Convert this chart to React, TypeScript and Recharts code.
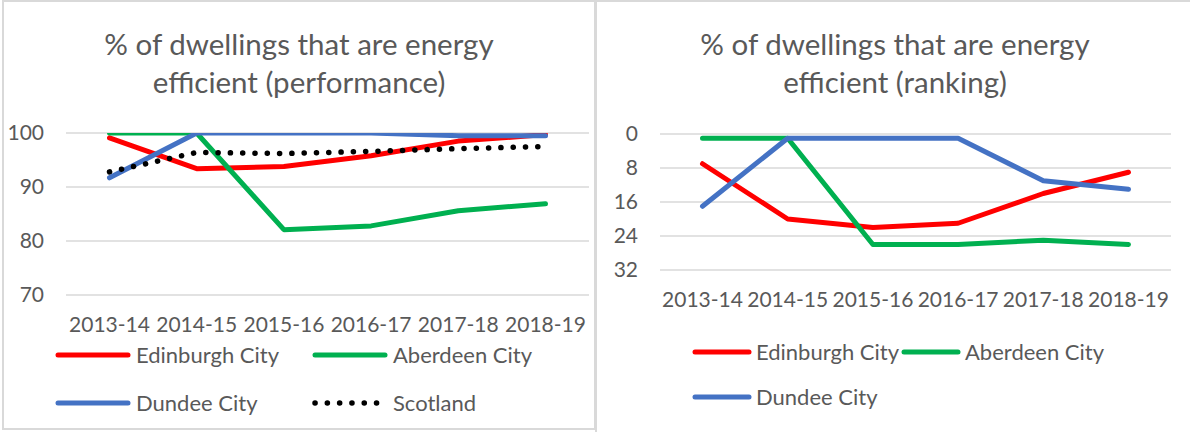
import React from 'react';
import { LineChart, Line, XAxis, YAxis, CartesianGrid } from 'recharts';

const years = ['2013-14', '2014-15', '2015-16', '2016-17', '2017-18', '2018-19'];

const perfEdinburgh = [99.1, 93.4, 93.8, 95.8, 98.5, 99.7];
const perfAberdeen = [100, 100, 82.1, 82.8, 85.6, 86.9];
const perfDundee = [91.7, 100, 100, 100, 99.5, 99.5];
const perfScotland = [92.8, 96.4, 96.2, 96.6, 97.1, 97.5];

const rankEdinburgh = [7, 20, 22, 21, 14, 9];
const rankAberdeen = [1, 1, 26, 26, 25, 26];
const rankDundee = [17, 1, 1, 1, 11, 13];

const perfTicks = [70, 80, 90, 100];
const rankTicks = [0, 8, 16, 24, 32];

const perfTitle = ['% of dwellings that are energy', 'efficient (performance)'];
const rankTitle = ['% of dwellings that are energy', 'efficient (ranking)'];

const perfData = years.map((y, i) => ({
  year: y,
  edinburgh: perfEdinburgh[i],
  aberdeen: perfAberdeen[i],
  dundee: perfDundee[i],
  scotland: perfScotland[i],
}));

const rankData = years.map((y, i) => ({
  year: y,
  edinburgh: rankEdinburgh[i],
  aberdeen: rankAberdeen[i],
  dundee: rankDundee[i],
}));

const RED = '#FF0000';
const GREEN = '#00B050';
const BLUE = '#4472C4';
const BLACK = '#000000';
const TEXT = '#595959';
const GRID = '#D9D9D9';
const FONT = 'Lato, "Open Sans", sans-serif';

const tickStyle = { fill: TEXT, fontSize: 21, fontFamily: FONT };

function LegendItem({ color, label, dotted, lineWidth, gap }: { color: string; label: string; dotted?: boolean; lineWidth: number; gap: number }) {
  return (
    <div style={{ display: 'flex', alignItems: 'center' }}>
      <svg width={lineWidth} height={10} style={{ marginRight: gap }}>
        {dotted ? (
          <line x1={3} y1={5} x2={lineWidth - 3} y2={5} stroke={color} strokeWidth={5.5} strokeLinecap="round" strokeDasharray="0.1 12.2" />
        ) : (
          <line x1={3} y1={5} x2={lineWidth - 3} y2={5} stroke={color} strokeWidth={5} strokeLinecap="round" />
        )}
      </svg>
      <span style={{ color: TEXT, fontSize: 22, fontFamily: FONT, whiteSpace: 'nowrap' }}>{label}</span>
    </div>
  );
}

function Title({ lines, center }: { lines: string[]; center: number }) {
  return (
    <div
      style={{
        position: 'absolute',
        left: center - 280,
        width: 560,
        top: 25,
        textAlign: 'center',
        color: TEXT,
        fontFamily: FONT,
        fontSize: 29.5,
        lineHeight: '38px',
      }}
    >
      {lines.map((l) => (
        <div key={l}>{l}</div>
      ))}
    </div>
  );
}

export default function App() {
  return (
    <div style={{ position: 'absolute', left: 0, top: 0, width: 1190, height: 432, overflow: 'hidden', background: '#fff' }}>
      {/* panel borders */}
      <div style={{ position: 'absolute', left: 2, top: 0, width: 594, height: 430, border: `2px solid ${GRID}`, boxSizing: 'border-box' }} />
      <div style={{ position: 'absolute', left: 595, top: 0, width: 620, height: 460, border: `2px solid ${GRID}`, boxSizing: 'border-box' }} />

      <Title lines={perfTitle} center={299} />
      <Title lines={rankTitle} center={895} />

      {/* left chart */}
      <div style={{ position: 'absolute', left: 0, top: 0 }}>
        <LineChart width={596} height={432} data={perfData} margin={{ top: 133, right: 7, bottom: 107, left: 0 }}>
          <CartesianGrid vertical={false} stroke={GRID} strokeWidth={1.5} />
          <XAxis
            dataKey="year"
            axisLine={false}
            tickLine={false}
            tickSize={0}
            tickMargin={22}
            height={30}
            tick={tickStyle}
            interval={0}
            padding={{ left: 43.5, right: 43.5 }}
          />
          <YAxis
            domain={[70, 100]}
            ticks={perfTicks}
            axisLine={false}
            tickLine={false}
            tickSize={0}
            tickMargin={22}
            width={66}
            tick={tickStyle}
            allowDataOverflow
          />
          <Line dataKey="edinburgh" stroke={RED} strokeWidth={5} dot={false} isAnimationActive={false} strokeLinejoin="round" strokeLinecap="round" />
          <Line dataKey="aberdeen" stroke={GREEN} strokeWidth={5} dot={false} isAnimationActive={false} strokeLinejoin="round" strokeLinecap="round" />
          <Line dataKey="dundee" stroke={BLUE} strokeWidth={5} dot={false} isAnimationActive={false} strokeLinejoin="round" strokeLinecap="round" />
          <Line dataKey="scotland" stroke={BLACK} strokeWidth={5.5} dot={false} isAnimationActive={false} strokeLinecap="round" strokeDasharray="0.1 12.2" />
        </LineChart>
      </div>

      {/* right chart */}
      <div style={{ position: 'absolute', left: 596, top: 0 }}>
        <LineChart width={594} height={432} data={rankData} margin={{ top: 134, right: 19, bottom: 132, left: 0 }}>
          <CartesianGrid vertical={false} stroke={GRID} strokeWidth={1.5} />
          <XAxis
            dataKey="year"
            axisLine={false}
            tickLine={false}
            tickSize={0}
            tickMargin={22}
            height={30}
            tick={tickStyle}
            interval={0}
            padding={{ left: 42.5, right: 42.5 }}
          />
          <YAxis
            domain={[0, 32]}
            ticks={rankTicks}
            reversed
            axisLine={false}
            tickLine={false}
            tickSize={0}
            tickMargin={22}
            width={64}
            tick={tickStyle}
          />
          <Line dataKey="edinburgh" stroke={RED} strokeWidth={5} dot={false} isAnimationActive={false} strokeLinejoin="round" strokeLinecap="round" />
          <Line dataKey="aberdeen" stroke={GREEN} strokeWidth={5} dot={false} isAnimationActive={false} strokeLinejoin="round" strokeLinecap="round" />
          <Line dataKey="dundee" stroke={BLUE} strokeWidth={5} dot={false} isAnimationActive={false} strokeLinejoin="round" strokeLinecap="round" />
        </LineChart>
      </div>

      {/* left legend */}
      <div style={{ position: 'absolute', left: 55, top: 341 }}>
        <LegendItem color={RED} label="Edinburgh City" lineWidth={76} gap={5} />
      </div>
      <div style={{ position: 'absolute', left: 312, top: 341 }}>
        <LegendItem color={GREEN} label="Aberdeen City" lineWidth={76} gap={5} />
      </div>
      <div style={{ position: 'absolute', left: 55, top: 389 }}>
        <LegendItem color={BLUE} label="Dundee City" lineWidth={76} gap={5} />
      </div>
      <div style={{ position: 'absolute', left: 312, top: 389 }}>
        <LegendItem color={BLACK} label="Scotland" lineWidth={76} gap={5} dotted />
      </div>

      {/* right legend */}
      <div style={{ position: 'absolute', left: 692, top: 338, display: 'flex' }}>
        <LegendItem color={RED} label="Edinburgh City" lineWidth={60} gap={4} />
        <div style={{ width: 2 }} />
        <LegendItem color={GREEN} label="Aberdeen City" lineWidth={60} gap={4} />
      </div>
      <div style={{ position: 'absolute', left: 692, top: 383 }}>
        <LegendItem color={BLUE} label="Dundee City" lineWidth={60} gap={4} />
      </div>
    </div>
  );
}
